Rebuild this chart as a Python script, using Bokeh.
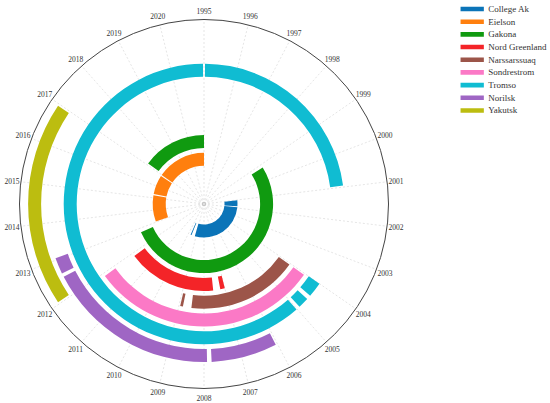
import numpy as np
from bokeh.plotting import figure
from bokeh.models import Range1d, ColumnDataSource
from bokeh.core.properties import value
from bokeh.embed import file_html
from bokeh.resources import INLINE

# ---------------- data ----------------
stations = ["College Ak", "Eielson", "Gakona", "Nord Greenland", "Narssarssuaq",
            "Sondrestrom", "Tromso", "Norilsk", "Yakutsk"]
colors = ["#0b74b8", "#ff7f0e", "#109a10", "#f42428", "#9c5549",
          "#fb79c6", "#10bcd2", "#9f66c4", "#bcbd10"]

college_ak = [(2001.05, 2001.78), (2001.90, 2009.15), (2009.58, 2009.70)]
eielson = [(2013.05, 2015.20), (2015.32, 2016.88), (2016.98, 2021.00)]
gakona = [(1999.20, 2012.75), (2017.10, 2021.00)]
nord_greenland = [(2007.00, 2007.22), (2007.56, 2011.85)]
narssarssuaq = [(2004.05, 2008.50), (2008.84, 2008.95)]
sondrestrom = [(2004.05, 2011.90)]
tromso = [(1995.03, 2000.95), (2004.00, 2004.45), (2004.58, 2004.90), (2005.02, 2020.97)]
norilsk = [(2006.05, 2007.80), (2007.92, 2012.52), (2012.62, 2013.05)]
yakutsk = [(2012.05, 2016.95)]
periods = [college_ak, eielson, gakona, nord_greenland, narssarssuaq,
           sondrestrom, tromso, norilsk, yakutsk]

years = list(range(1995, 2021))
year_labels = [str(y) for y in years]

# ---------------- geometry ----------------
W, H = 550, 403
CX, CY = 203.5, 203.5      # chart centre (page pixels)
R_OUT = 184.5
R_LAB = 193.5
RING0, RING_STEP, RING_W = 27.0, 17.8, 13.0
YEAR0, SPAN = 1995.0, 26.0


def ang(yr):
    return np.pi / 2 - (np.asarray(yr, dtype=float) - YEAR0) * 2 * np.pi / SPAN


p = figure(width=W, height=H, output_backend="svg", toolbar_location=None,
           x_range=Range1d(-CX, W - CX), y_range=Range1d(CY - H, CY),
           x_axis_location=None, y_axis_location=None, min_border=0,
           outline_line_color=None)
p.grid.visible = False
p.background_fill_color = "white"
p.border_fill_color = "white"

# spokes
ya = ang(years)
p.segment(x0=0, y0=0, x1=R_OUT * np.cos(ya), y1=R_OUT * np.sin(ya),
          line_color="#dedede", line_width=0.8, line_dash="2 2")
# centre marker
p.circle(x=[0], y=[0], radius=1.8, fill_color=None, line_color="#bbbbbb", line_width=0.8)

# bars
for k, (name, col, segs) in enumerate(zip(stations, colors, periods)):
    mid = RING0 + k * RING_STEP
    src = ColumnDataSource(dict(
        s=ang([a for a, b in segs]),
        e=ang([b for a, b in segs]),
    ))
    p.annular_wedge(x=0, y=0, inner_radius=mid - RING_W / 2, outer_radius=mid + RING_W / 2,
                    start_angle="s", end_angle="e", direction="clock",
                    fill_color=col, line_color=None, source=src)

# outer circle
p.circle(x=[0], y=[0], radius=R_OUT, fill_color=None, line_color="#444444", line_width=1)

# year labels
p.text(x=R_LAB * np.cos(ya), y=R_LAB * np.sin(ya), text=year_labels,
       text_font=value("Liberation Serif"), text_font_size="7.5px",
       text_color="#333333", text_align="center", text_baseline="middle")

# legend (manual, from stations/colors)
idx = np.arange(len(stations))
ly = CY - (8.5 + 12.68 * idx)
p.rect(x=471.7 - CX, y=ly, width=23.3, height=4.6, fill_color=colors, line_color=None)
p.text(x=487.7 - CX, y=ly, text=stations, text_font=value("Liberation Serif"),
       text_font_size="9px", text_color="#333333", text_align="left", text_baseline="middle")

open("out.html", "w").write(file_html(p, INLINE))
